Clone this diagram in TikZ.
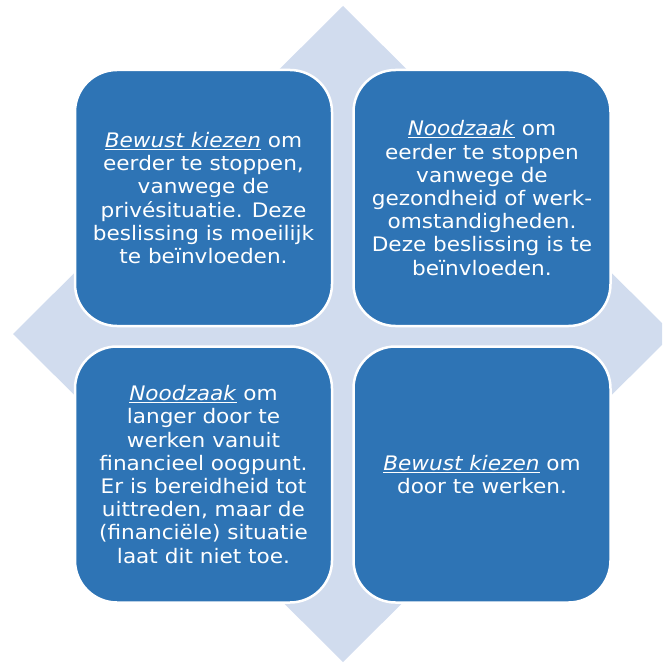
\documentclass[tikz,border=0pt]{standalone}
\usepackage{fontspec}
\setmainfont[FakeStretch=1.08]{DejaVu Sans}
\definecolor{boxblue}{HTML}{2E74B5}
\definecolor{diamondblue}{HTML}{D1DCEE}
\tikzset{
  quad/.style={rectangle, rounded corners=42pt, fill=boxblue, draw=white, line width=2.5pt,
    minimum width=257pt, minimum height=256pt, text=white, align=center, inner sep=0pt,
    font=\fontsize{20}{23.2}\selectfont},
}
\newcommand{\emu}[1]{\underline{\textit{#1}}}
\begin{document}
\begin{tikzpicture}[x=1pt,y=-1pt]
\useasboundingbox (0,0) rectangle (662,663);
\clip (0,0) rectangle (662,663);
\fill[diamondblue] (343,6) -- (673,334) -- (343,662) -- (13,334) -- cycle;
\node[quad] (tl) at (203.5,198) {\emu{Bewust kiezen} om\\eerder te stoppen,\\vanwege de\\privésituatie. Deze\\beslissing is moeilijk\\te beïnvloeden.};
\node[quad] (tr) at (482,198) {\emu{Noodzaak} om\\eerder te stoppen\\vanwege de\\gezondheid of werk-\\omstandigheden.\\Deze beslissing is te\\beïnvloeden.};
\node[quad] (bl) at (203.5,474.5) {\emu{Noodzaak} om\\langer door te\\werken vanuit\\financieel oogpunt.\\Er is bereidheid tot\\uittreden, maar de\\(financiële) situatie\\laat dit niet toe.};
\node[quad] (br) at (482,474.5) {\emu{Bewust kiezen} om\\door te werken.};
\end{tikzpicture}
\end{document}
